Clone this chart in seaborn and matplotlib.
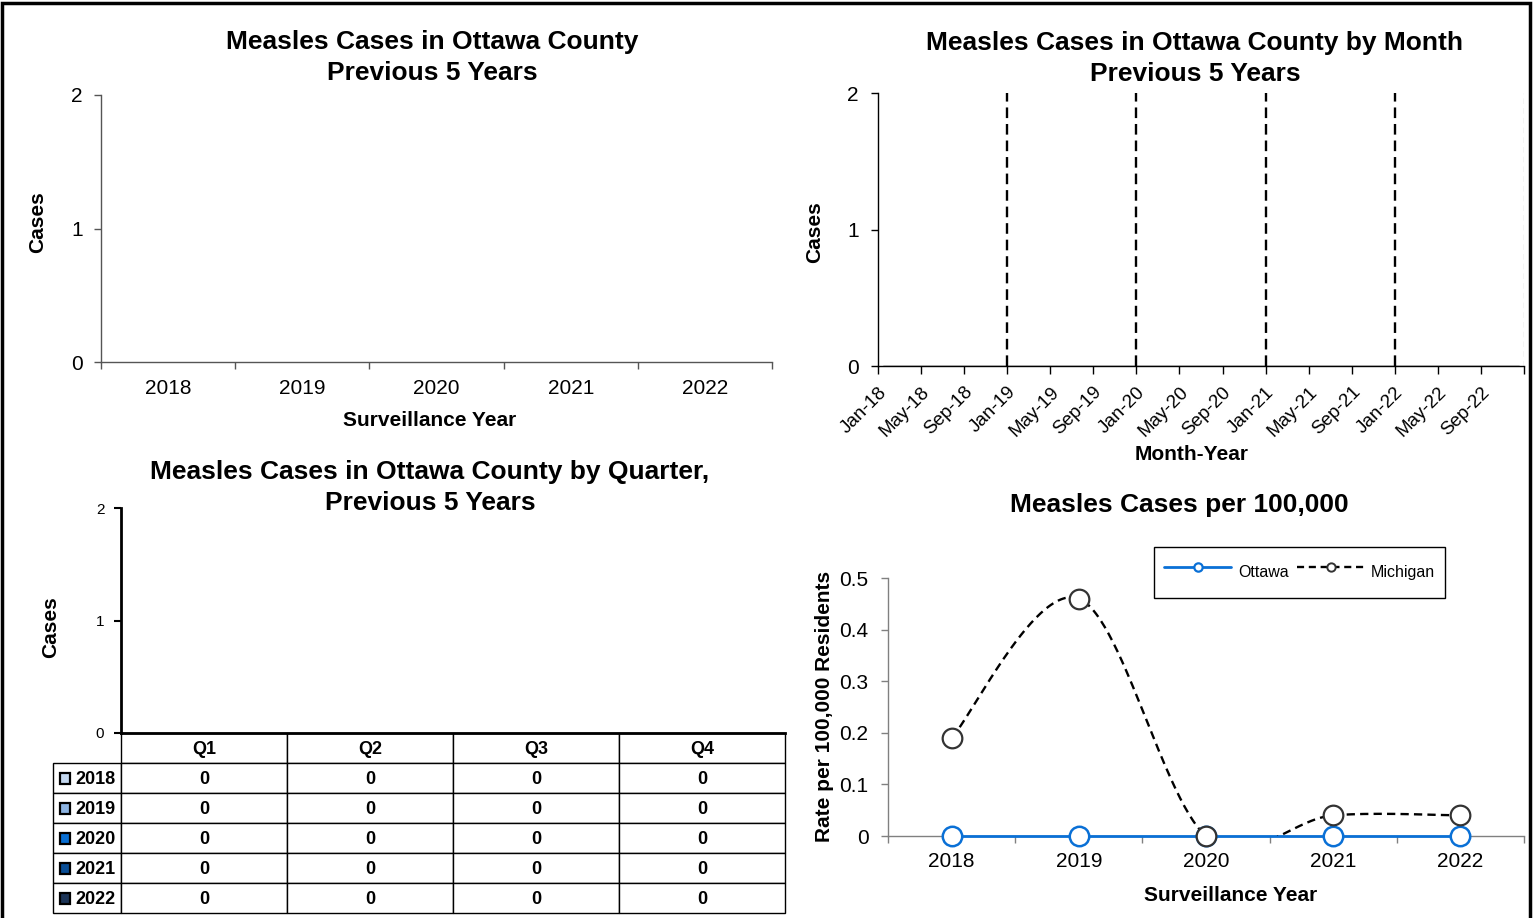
import numpy as np
import pandas as pd
import matplotlib
matplotlib.use("Agg")
import matplotlib.pyplot as plt
from matplotlib.patches import Rectangle
from matplotlib.lines import Line2D
from matplotlib.transforms import ScaledTranslation
import seaborn as sns

# ---------------- data ----------------
years = ["2018", "2019", "2020", "2021", "2022"]
annual_cases = [0, 0, 0, 0, 0]

month_names = ["Jan", "Feb", "Mar", "Apr", "May", "Jun",
               "Jul", "Aug", "Sep", "Oct", "Nov", "Dec"]
monthly_2018 = [0, 0, 0, 0, 0, 0, 0, 0, 0, 0, 0, 0]
monthly_2019 = [0, 0, 0, 0, 0, 0, 0, 0, 0, 0, 0, 0]
monthly_2020 = [0, 0, 0, 0, 0, 0, 0, 0, 0, 0, 0, 0]
monthly_2021 = [0, 0, 0, 0, 0, 0, 0, 0, 0, 0, 0, 0]
monthly_2022 = [0, 0, 0, 0, 0, 0, 0, 0, 0, 0, 0, 0]

quarters = ["Q1", "Q2", "Q3", "Q4"]
quarterly_2018 = [0, 0, 0, 0]
quarterly_2019 = [0, 0, 0, 0]
quarterly_2020 = [0, 0, 0, 0]
quarterly_2021 = [0, 0, 0, 0]
quarterly_2022 = [0, 0, 0, 0]

ottawa_rate = [0.0, 0.0, 0.0, 0.0, 0.0]
michigan_rate = [0.19, 0.46, 0.0, 0.04, 0.04]

year_colors = ["#C5D9F1", "#8DB4E2", "#0A6FD3", "#0A4E96", "#1C3457"]
ottawa_color = "#0A70D6"
michigan_color = "#333333"

# ---------------- style ----------------
sns.set_theme(style="ticks")
plt.rcParams["font.family"] = ["Liberation Sans", "DejaVu Sans"]
plt.rcParams["axes.linewidth"] = 1.0
plt.rcParams["text.color"] = "black"
plt.rcParams["axes.labelcolor"] = "black"
plt.rcParams["xtick.color"] = "black"
plt.rcParams["ytick.color"] = "black"
plt.rcParams["xtick.labelcolor"] = "black"
plt.rcParams["ytick.labelcolor"] = "black"

W, H = 1535, 918
fig = plt.figure(figsize=(W / 100, H / 100), dpi=100)


def axes_px(x0, y0, x1, y1):
    return fig.add_axes([x0 / W, 1 - y1 / H, (x1 - x0) / W, (y1 - y0) / H])


TITLE_FS = 19
LABEL_FS = 15
TICK_FS = 15
TITLE_LS = 1.32


def category_axis(ax, labels, fs, pad):
    n = len(labels)
    ax.set_xlim(-0.5, n - 0.5)
    ax.set_xticks(np.arange(n + 1) - 0.5)
    ax.set_xticklabels([])
    ax.set_xticks(np.arange(n), minor=True)
    ax.set_xticklabels(labels, minor=True)
    ax.tick_params(axis="x", which="minor", length=0, labelsize=fs, pad=pad,
                   labelcolor="black")


# ---------------- panel 1: annual ----------------
ax1 = axes_px(101, 95, 772, 362)
df1 = pd.DataFrame({"Year": years, "Cases": annual_cases})
sns.barplot(data=df1, x="Year", y="Cases", ax=ax1, color=year_colors[2],
            linewidth=0)
ax1.set_ylim(0, 2)
ax1.set_yticks([0, 1, 2])
category_axis(ax1, years, TICK_FS, 12)
ax1.tick_params(axis="x", which="major", length=5, width=1, color="#555555")
ax1.tick_params(axis="y", length=5, width=1, color="#555555",
                labelsize=TICK_FS, pad=8)
for s in ["top", "right"]:
    ax1.spines[s].set_visible(False)
for s in ["left", "bottom"]:
    ax1.spines[s].set_color("#555555")
ax1.set_xlabel("Surveillance Year", fontsize=LABEL_FS, fontweight="bold")
ax1.set_ylabel("Cases", fontsize=LABEL_FS, fontweight="bold")
ax1.xaxis.set_label_coords(0.49, -0.185)
ax1.yaxis.set_label_coords(-0.080, 0.524)
fig.text(432 / W, 1 - 57.5 / H,
         "Measles Cases in Ottawa County\nPrevious 5 Years",
         ha="center", va="center", fontsize=TITLE_FS, fontweight="bold",
         linespacing=TITLE_LS)

# ---------------- panel 2: monthly ----------------
ax2 = axes_px(878, 93, 1524, 366)
monthly_cases = (monthly_2018 + monthly_2019 + monthly_2020 +
                 monthly_2021 + monthly_2022)
month_labels = [f"{m}-{y[2:]}" for y in years for m in month_names]
month_pos = np.arange(len(month_labels)) + 0.5
df2 = pd.DataFrame({"pos": month_pos, "Cases": monthly_cases})
sns.lineplot(data=df2, x="pos", y="Cases", ax=ax2, color="black",
             linewidth=1.0)
ax2.set_xlim(0, len(month_labels))
ax2.set_ylim(0, 2)
ax2.set_yticks([0, 1, 2])
tick_idx = list(range(0, len(month_labels) + 1, 4))
ax2.set_xticks(tick_idx)
ax2.set_xticklabels([month_labels[i] if i < len(month_labels) else ""
                     for i in tick_idx])
ax2.tick_params(axis="x", length=6, width=1, color="black", pad=11)
ax2.tick_params(axis="y", length=5, width=1, color="black",
                labelsize=TICK_FS, pad=9)
shift = ScaledTranslation(6 / 100, 0, fig.dpi_scale_trans)
for lab in ax2.get_xticklabels():
    lab.set_rotation(45)
    lab.set_ha("right")
    lab.set_va("center")
    lab.set_rotation_mode("anchor")
    lab.set_fontsize(13.5)
    lab.set_transform(lab.get_transform() + shift)
for i, lab in enumerate(month_labels):
    if lab.startswith("Jan") and i > 0:
        ax2.axvline(i, color="black", linewidth=1.7, linestyle=(0, (4.5, 2.5)),
                    zorder=1)
ax2.axvline(len(month_labels), color="#c8c8c8", linewidth=1.0,
            linestyle=(0, (4, 3)), zorder=1)
for s in ["top", "right"]:
    ax2.spines[s].set_visible(False)
for s in ["left", "bottom"]:
    ax2.spines[s].set_color("black")
ax2.set_xlabel("Month-Year", fontsize=LABEL_FS, fontweight="bold")
ax2.set_ylabel("Cases", fontsize=LABEL_FS, fontweight="bold")
ax2.xaxis.set_label_coords(0.485, -0.29)
ax2.yaxis.set_label_coords(-0.0836, 0.491)
fig.text(1195 / W, 1 - 58.5 / H,
         "Measles Cases in Ottawa County by Month\nPrevious 5 Years",
         ha="center", va="center", fontsize=TITLE_FS, fontweight="bold",
         linespacing=TITLE_LS)

# ---------------- panel 3: quarterly with table ----------------
ax3 = axes_px(121, 508, 785, 733)
quarterly = [quarterly_2018, quarterly_2019, quarterly_2020,
             quarterly_2021, quarterly_2022]
df3 = pd.DataFrame([(q, y, v) for y, vals in zip(years, quarterly)
                    for q, v in zip(quarters, vals)],
                   columns=["Quarter", "Year", "Cases"])
sns.barplot(data=df3, x="Quarter", y="Cases", hue="Year", ax=ax3,
            palette=year_colors, linewidth=0, legend=False)
ax3.set_ylim(0, 2)
ax3.set_yticks([0, 1, 2])
ax3.set_xticks([])
ax3.set_xlabel("")
ax3.tick_params(axis="y", length=5, width=1.5, color="black",
                labelsize=11, pad=7)
for s in ["top", "right"]:
    ax3.spines[s].set_visible(False)
ax3.spines["left"].set_linewidth(2)
ax3.spines["left"].set_color("black")
ax3.spines["bottom"].set_linewidth(2)
ax3.spines["bottom"].set_color("black")
ax3.set_ylabel("Cases", fontsize=LABEL_FS, fontweight="bold")
ax3.yaxis.set_label_coords(-0.092, 0.471)

rowlab_px, col_px = 68, 166
tot_px = rowlab_px + col_px * len(quarters)
cell_text = [[y] + [f"{v:g}" for v in vals] for y, vals in zip(years, quarterly)]
tbl = ax3.table(cellText=cell_text, colLabels=[""] + quarters,
                colWidths=[rowlab_px / tot_px] + [col_px / tot_px] * len(quarters),
                cellLoc="center", bbox=[-rowlab_px / 664, -0.8, tot_px / 664, 0.8])
tbl.auto_set_font_size(False)
tbl.set_fontsize(13)
for (r, c), cell in tbl.get_celld().items():
    cell.set_edgecolor("black")
    cell.set_linewidth(1.0)
    cell.get_text().set_fontweight("bold")
    cell.get_text().set_color("black")
    cell.get_text().set_transform(cell.get_text().get_transform() +
                                  ScaledTranslation(0, -2 / 100, fig.dpi_scale_trans))
    if r == 0 and c == 0:
        cell.visible_edges = ""
    if r > 0 and c == 0:
        cell.get_text().set_horizontalalignment("right")
        cell.PAD = 0.08
n_rows = len(years) + 1
row_h = 0.8 / n_rows
for i, col in enumerate(year_colors):
    yc = -0.8 + row_h * (len(years) - i - 0.5)
    ax3.add_patch(Rectangle(((60 - 121) / 664, yc - 5.5 / 225), 10 / 664, 11 / 225,
                            facecolor=col, edgecolor="black", linewidth=1.6,
                            transform=ax3.transAxes, clip_on=False, zorder=5))
fig.text(430 / W, 1 - 487.5 / H,
         "Measles Cases in Ottawa County by Quarter,\nPrevious 5 Years",
         ha="center", va="center", fontsize=TITLE_FS, fontweight="bold",
         linespacing=TITLE_LS)

# ---------------- panel 4: rates ----------------
ax4 = axes_px(888, 578, 1524, 836)
xi = np.arange(len(years))
df4 = pd.DataFrame({"x": xi, "Ottawa": ottawa_rate, "Michigan": michigan_rate})
sns.lineplot(data=df4, x="x", y="Ottawa", ax=ax4, color=ottawa_color,
             linewidth=2.0, marker="o", markersize=14, markerfacecolor="white",
             markeredgecolor=ottawa_color, markeredgewidth=1.8, clip_on=False,
             zorder=3)


def bezier_smooth(xs, ys, n=60):
    px = np.asarray(xs, float)
    py = np.asarray(ys, float)
    ex = np.r_[px[0], px, px[-1]]
    ey = np.r_[py[0], py, py[-1]]
    t = np.linspace(0, 1, n)[:, None]
    out = []
    for i in range(len(px) - 1):
        p0 = np.array([px[i], py[i]])
        p3 = np.array([px[i + 1], py[i + 1]])
        c1 = p0 + np.array([ex[i + 2] - ex[i], ey[i + 2] - ey[i]]) / 6
        c2 = p3 - np.array([ex[i + 3] - ex[i + 1], ey[i + 3] - ey[i + 1]]) / 6
        seg = ((1 - t) ** 3) * p0 + 3 * ((1 - t) ** 2) * t * c1 + \
            3 * (1 - t) * t ** 2 * c2 + t ** 3 * p3
        out.append(seg)
    out = np.vstack(out)
    return out[:, 0], out[:, 1]


sx, sy = bezier_smooth(xi, michigan_rate)
ax4.plot(sx, sy, color="black", linewidth=1.7, linestyle=(0, (3.5, 2.2)),
         zorder=4)
sns.scatterplot(data=df4, x="x", y="Michigan", ax=ax4, s=200, marker="o",
                facecolor="white", edgecolor=michigan_color, linewidth=1.6,
                clip_on=False, zorder=5)
ax4.set_ylim(0, 0.5)
ax4.set_yticks([0, 0.1, 0.2, 0.3, 0.4, 0.5])
ax4.set_yticklabels([f"{v:g}" for v in [0, 0.1, 0.2, 0.3, 0.4, 0.5]])
category_axis(ax4, years, TICK_FS, 11.5)
ax4.tick_params(axis="x", which="major", length=5, width=1, color="#808080")
ax4.tick_params(axis="y", length=5, width=1, color="#808080",
                labelsize=TICK_FS, pad=9)
for s in ["top", "right"]:
    ax4.spines[s].set_visible(False)
for s in ["left", "bottom"]:
    ax4.spines[s].set_color("#808080")
ax4.set_xlabel("Surveillance Year", fontsize=LABEL_FS, fontweight="bold")
ax4.set_ylabel("Rate per 100,000 Residents", fontsize=LABEL_FS,
               fontweight="bold")
ax4.xaxis.set_label_coords(0.538, -0.195)
ax4.yaxis.set_label_coords(-0.085, 0.504)
handles = [
    Line2D([], [], color=ottawa_color, linewidth=2.0, marker="o", markersize=6,
           markerfacecolor="white", markeredgecolor=ottawa_color,
           markeredgewidth=1.6),
    Line2D([], [], color="black", linewidth=1.7, linestyle=(0, (3, 2)),
           marker="o", markersize=6, markerfacecolor="white",
           markeredgecolor=michigan_color, markeredgewidth=1.4),
]
leg = fig.legend(handles, ["Ottawa", "Michigan"], loc="upper left",
                 bbox_to_anchor=(1154 / W, 1 - 547 / H),
                 bbox_transform=fig.transFigure, ncol=2, fontsize=11.5,
                 handlelength=4.2, handleheight=2.5, handletextpad=0.4,
                 columnspacing=0.55, borderpad=0.65, frameon=True,
                 fancybox=False, framealpha=1, borderaxespad=0)
leg.get_frame().set_edgecolor("black")
leg.get_frame().set_linewidth(1.0)
fig.text(1179 / W, 1 - 505 / H, "Measles Cases per 100,000",
         ha="center", va="center", fontsize=TITLE_FS, fontweight="bold")

# ---------------- outer frame ----------------
fig.add_artist(Rectangle((1.5 / W, -0.05), (1529.5 - 1.5) / W, 1.05 - 3 / H,
                         fill=False, edgecolor="black", linewidth=2.5,
                         transform=fig.transFigure))

fig.savefig("out.png", dpi=100, facecolor="white")
